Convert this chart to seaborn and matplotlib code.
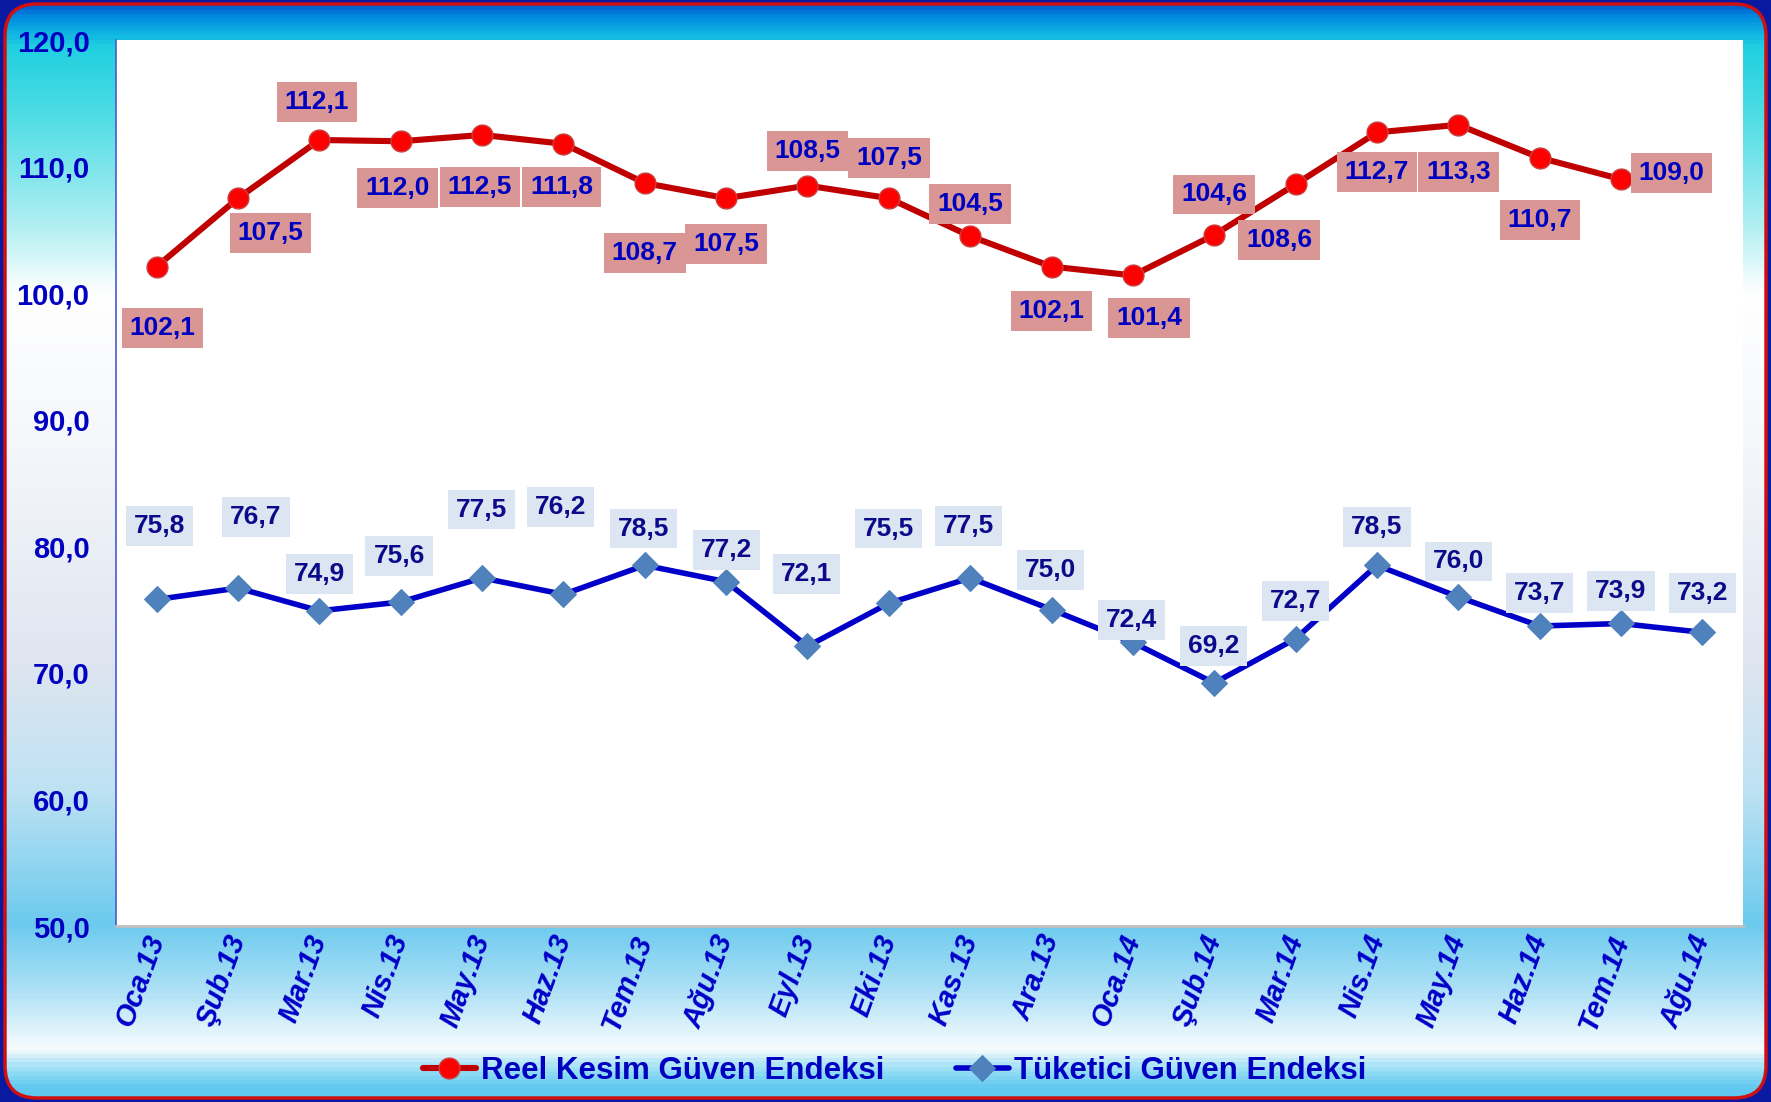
import numpy as np
import pandas as pd
import matplotlib
matplotlib.use("Agg")
import matplotlib.pyplot as plt
import seaborn as sns
from matplotlib.colors import LinearSegmentedColormap
from matplotlib.patches import FancyBboxPatch
from matplotlib.ticker import FixedLocator, FuncFormatter

# Data
months = ["Oca.13", "Şub.13", "Mar.13", "Nis.13", "May.13", "Haz.13", "Tem.13",
          "Ağu.13", "Eyl.13", "Eki.13", "Kas.13", "Ara.13", "Oca.14", "Şub.14",
          "Mar.14", "Nis.14", "May.14", "Haz.14", "Tem.14", "Ağu.14"]
reel_kesim = [102.1, 107.5, 112.1, 112.0, 112.5, 111.8, 108.7, 107.5, 108.5, 107.5,
              104.5, 102.1, 101.4, 104.6, 108.6, 112.7, 113.3, 110.7, 109.0]
tuketici = [75.8, 76.7, 74.9, 75.6, 77.5, 76.2, 78.5, 77.2, 72.1, 75.5,
            77.5, 75.0, 72.4, 69.2, 72.7, 78.5, 76.0, 73.7, 73.9, 73.2]
series_names = ["Reel Kesim Güven Endeksi", "Tüketici Güven Endeksi"]

# label placement (offset from each point: categories, index units)
red_dx = [0.07, 0.40, -0.03, -0.04, -0.03, -0.02, 0, 0, 0, 0, 0, 0, 0.2, 0, -0.2, 0, 0, 0, 0.62]
red_dy = [-4.84, -2.75, 3.0, -3.7, -4.1, -3.4, -5.55, -3.64, 2.76, 3.2, 2.57, -3.5, -3.34,
          3.2, -4.4, -3.1, -3.7, -4.9, 0.48]
blue_dx = [0.03, 0.22, 0, -0.02, -0.01, -0.04, -0.02, 0.01, -0.01, 0, -0.02, -0.01, -0.02,
           -0.01, 0, 0, 0, 0, 0, 0]
blue_dy = [5.8, 5.6, 2.9, 3.6, 5.4, 6.9, 2.9, 2.5, 5.7, 5.9, 4.1, 3.1, 1.8, 2.9, 3.0, 3.0,
           2.8, 2.6, 2.6, 3.1]

df_red = pd.DataFrame({"x": np.arange(len(reel_kesim)), "y": reel_kesim})
df_blue = pd.DataFrame({"x": np.arange(len(tuketici)), "y": tuketici})

sns.set_theme(style="white")
plt.rcParams["font.family"] = ["Liberation Sans", "DejaVu Sans"]
plt.rcParams["font.weight"] = "bold"

W, H = 1771, 1102
fig = plt.figure(figsize=(W / 100, H / 100), dpi=100)
fig.patch.set_facecolor("#0a1aa0")

# background gradient with rounded red frame
bg = fig.add_axes([0, 0, 1, 1], zorder=-5)
bg.set_xlim(0, W)
bg.set_ylim(0, H)
bg.axis("off")
stops = [(0.0, "#0050c8"), (0.012, "#0088e0"), (0.028, "#10b4e2"), (0.04, "#20d0e0"),
         (0.10, "#4cdce4"), (0.20, "#aeeef2"), (0.265, "#ffffff"), (0.40, "#f5f7fb"),
         (0.60, "#dfe5f0"), (0.72, "#bde2f3"), (0.84, "#6ccaee"), (0.90, "#ade1f6"),
         (0.955, "#f8fcfe"), (0.963, "#c8ecf9"), (0.975, "#90dcf4"), (0.99, "#60c8f0"),
         (1.0, "#60c8f0")]
cmap = LinearSegmentedColormap.from_list("bgc", stops)
grad = np.linspace(0, 1, 800).reshape(-1, 1)
im = bg.imshow(grad, cmap=cmap, aspect="auto", extent=[0, W, 0, H], origin="upper")
frame = FancyBboxPatch((5, 4), W - 10, H - 8, boxstyle="round,pad=0,rounding_size=32",
                       fc="none", ec="#d01010", lw=2.5)
bg.add_patch(frame)
im.set_clip_path(frame)

ax = fig.add_axes([116 / W, 1 - 926 / H, (1743 - 116) / W, (926 - 40) / H])
ax.set_facecolor("white")

sns.lineplot(data=df_red, x="x", y="y", ax=ax, color="#c00000", lw=4.4, marker="o",
             markersize=15, markerfacecolor="#ff0000", markeredgecolor="#c84040",
             markeredgewidth=1, label=series_names[0], zorder=3)
sns.lineplot(data=df_blue, x="x", y="y", ax=ax, color="#0000c8", lw=4.0, marker="D",
             markersize=13, markerfacecolor="#4f81bd", markeredgecolor="#4f81bd",
             label=series_names[1], zorder=3)

for i, v in enumerate(reel_kesim):
    ax.text(i + red_dx[i], v + red_dy[i], f"{v:.1f}".replace(".", ","), ha="center",
            va="center", fontsize=19, fontweight="bold", color="#0000c0", zorder=5,
            bbox=dict(boxstyle="square,pad=0.3", fc="#d99694", ec="none"))
for i, v in enumerate(tuketici):
    ax.text(i + blue_dx[i], v + blue_dy[i], f"{v:.1f}".replace(".", ","), ha="center",
            va="center", fontsize=19, fontweight="bold", color="#0a0a8a", zorder=5,
            bbox=dict(boxstyle="square,pad=0.3", fc="#dce6f2", ec="none"))

ax.set_xlim(-0.5, len(months) - 0.5)
ax.set_ylim(50, 120)
ax.set_yticks(np.arange(50, 121, 10))
ax.yaxis.set_major_formatter(FuncFormatter(lambda v, p: f"{v:.1f}".replace(".", ",")))
ax.set_xticks(np.arange(len(months)))
ax.set_xticklabels(months, rotation=70, ha="right", va="center", rotation_mode="anchor",
                   fontsize=21, fontweight="bold", fontstyle="italic", color="#0000c8")
ax.xaxis.set_minor_locator(FixedLocator(np.arange(len(months) + 1) - 0.5))
ax.tick_params(axis="x", which="major", length=0, pad=7)
ax.tick_params(axis="x", which="minor", length=9, width=1.8, color="#909090", direction="out")
ax.tick_params(axis="y", length=0, pad=19, labelsize=21, labelcolor="#0000c0")
for lab in ax.get_yticklabels():
    lab.set_fontweight("bold")
ax.set_xlabel("")
ax.set_ylabel("")
for s in ["top", "right"]:
    ax.spines[s].set_visible(False)
ax.spines["left"].set_color("#4a5ad0")
ax.spines["left"].set_linewidth(1.2)
ax.spines["bottom"].set_color("#c0c0c0")
ax.spines["bottom"].set_linewidth(2)

handles, labels = ax.get_legend_handles_labels()
ax.get_legend().remove()
leg = fig.legend(handles, labels, loc="center", bbox_to_anchor=(0.505, 0.028), ncol=2,
                 frameon=False, fontsize=22.5, handlelength=1.7, columnspacing=2.3,
                 handletextpad=0.15)
for t in leg.get_texts():
    t.set_color("#0000c0")
    t.set_fontweight("bold")

fig.savefig("out.png", dpi=100, facecolor=fig.get_facecolor())
